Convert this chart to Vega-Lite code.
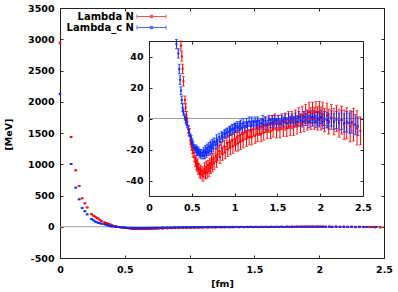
{
"$schema": "https://vega.github.io/schema/vega-lite/v6.json",
"width": 324,
"height": 250,
"autosize": {"type": "none"},
"padding": {"left": 60, "top": 8, "right": 14, "bottom": 34},
"background": "white",
"config": {
  "view": {"stroke": null},
  "font": "DejaVu Sans",
  "axis": {"labelFont": "DejaVu Sans", "labelFontWeight": "bold", "labelFontSize": 9.5, "labelColor": "#000",
    "titleFont": "DejaVu Sans", "titleFontWeight": "bold", "titleFontSize": 9.5, "titleColor": "#000",
    "domainColor": "#222", "tickColor": "#222", "tickSize": -3, "labelPadding": 9, "grid": false,
    "labelFlush": false, "labelOverlap": false, "labelExpr": "'' + datum.value"}
},
"datasets": {
"pot": [
{"r":0,"v":2940,"e":15,"s":"Lambda N"},{"r":0.0857,"v":1436,"e":10,"s":"Lambda N"},{"r":0.1212,"v":903,"e":8,"s":"Lambda N"},{"r":0.1484,"v":652,"e":6,"s":"Lambda N"},{"r":0.1714,"v":455,"e":5,"s":"Lambda N"},{"r":0.1916,"v":375,"e":5,"s":"Lambda N"},{"r":0.2099,"v":308,"e":4,"s":"Lambda N"},{"r":0.2424,"v":204,"e":4,"s":"Lambda N"},{"r":0.2571,"v":178,"e":4,"s":"Lambda N"},{"r":0.271,"v":162,"e":4,"s":"Lambda N"},{"r":0.2842,"v":140,"e":3,"s":"Lambda N"},{"r":0.2969,"v":128,"e":3,"s":"Lambda N"},{"r":0.309,"v":105,"e":3,"s":"Lambda N"},{"r":0.3207,"v":88,"e":3,"s":"Lambda N"},{"r":0.3428,"v":70,"e":3,"s":"Lambda N"},{"r":0.3533,"v":62,"e":3,"s":"Lambda N"},{"r":0.3636,"v":55,"e":3,"s":"Lambda N"},{"r":0.3736,"v":47,"e":3,"s":"Lambda N"},{"r":0.3833,"v":40,"e":3,"s":"Lambda N"},{"r":0.3927,"v":32,"e":3,"s":"Lambda N"},{"r":0.402,"v":24,"e":3,"s":"Lambda N"},{"r":0.4198,"v":12,"e":2.5,"s":"Lambda N"},{"r":0.4285,"v":7,"e":2.5,"s":"Lambda N"},{"r":0.437,"v":2,"e":2.5,"s":"Lambda N"},{"r":0.4453,"v":-2,"e":2.5,"s":"Lambda N"},{"r":0.4615,"v":-7,"e":2.5,"s":"Lambda N"},{"r":0.4694,"v":-9,"e":2.5,"s":"Lambda N"},{"r":0.4848,"v":-14,"e":2.5,"s":"Lambda N"},{"r":0.4923,"v":-16,"e":2.5,"s":"Lambda N"},{"r":0.4997,"v":-18,"e":2.5,"s":"Lambda N"},{"r":0.507,"v":-20,"e":2.5,"s":"Lambda N"},{"r":0.5142,"v":-22,"e":3,"s":"Lambda N"},{"r":0.5283,"v":-25,"e":3,"s":"Lambda N"},{"r":0.542,"v":-28,"e":3,"s":"Lambda N"},{"r":0.5487,"v":-27,"e":3,"s":"Lambda N"},{"r":0.5554,"v":-30,"e":3,"s":"Lambda N"},{"r":0.562,"v":-31,"e":3,"s":"Lambda N"},{"r":0.5685,"v":-29,"e":3,"s":"Lambda N"},{"r":0.5749,"v":-33,"e":3,"s":"Lambda N"},{"r":0.5812,"v":-32,"e":3,"s":"Lambda N"},{"r":0.5937,"v":-35,"e":3,"s":"Lambda N"},{"r":0.5999,"v":-33,"e":3,"s":"Lambda N"},{"r":0.606,"v":-36,"e":3,"s":"Lambda N"},{"r":0.62,"v":-34,"e":3,"s":"Lambda N"},{"r":0.63,"v":-37,"e":3.5,"s":"Lambda N"},{"r":0.64,"v":-35,"e":3,"s":"Lambda N"},{"r":0.65,"v":-32,"e":3.5,"s":"Lambda N"},{"r":0.66,"v":-36,"e":3,"s":"Lambda N"},{"r":0.67,"v":-31,"e":3.5,"s":"Lambda N"},{"r":0.68,"v":-35,"e":3.5,"s":"Lambda N"},{"r":0.69,"v":-30,"e":3,"s":"Lambda N"},{"r":0.7,"v":-34,"e":3.5,"s":"Lambda N"},{"r":0.71,"v":-29,"e":3.5,"s":"Lambda N"},{"r":0.72,"v":-32,"e":3.5,"s":"Lambda N"},{"r":0.73,"v":-27,"e":3.5,"s":"Lambda N"},{"r":0.74,"v":-31,"e":3.5,"s":"Lambda N"},{"r":0.75,"v":-26,"e":3.5,"s":"Lambda N"},{"r":0.76,"v":-29,"e":4,"s":"Lambda N"},{"r":0.78,"v":-24,"e":4,"s":"Lambda N"},{"r":0.79,"v":-28,"e":3.5,"s":"Lambda N"},{"r":0.8,"v":-23,"e":4,"s":"Lambda N"},{"r":0.82,"v":-21,"e":4,"s":"Lambda N"},{"r":0.83,"v":-25,"e":4,"s":"Lambda N"},{"r":0.85,"v":-19,"e":4,"s":"Lambda N"},{"r":0.86,"v":-23,"e":4,"s":"Lambda N"},{"r":0.88,"v":-18,"e":4,"s":"Lambda N"},{"r":0.89,"v":-22,"e":4,"s":"Lambda N"},{"r":0.91,"v":-16,"e":4,"s":"Lambda N"},{"r":0.92,"v":-20,"e":4.5,"s":"Lambda N"},{"r":0.94,"v":-15,"e":4,"s":"Lambda N"},{"r":0.95,"v":-19,"e":4.5,"s":"Lambda N"},{"r":0.97,"v":-14,"e":4,"s":"Lambda N"},{"r":0.98,"v":-18,"e":4.5,"s":"Lambda N"},{"r":1.0,"v":-13,"e":4.5,"s":"Lambda N"},{"r":1.01,"v":-17,"e":4,"s":"Lambda N"},{"r":1.03,"v":-12,"e":4.5,"s":"Lambda N"},{"r":1.04,"v":-16,"e":5,"s":"Lambda N"},{"r":1.06,"v":-11,"e":4.5,"s":"Lambda N"},{"r":1.07,"v":-15,"e":5,"s":"Lambda N"},{"r":1.09,"v":-10,"e":4.5,"s":"Lambda N"},{"r":1.1,"v":-14,"e":5,"s":"Lambda N"},{"r":1.12,"v":-9,"e":4.5,"s":"Lambda N"},{"r":1.14,"v":-13,"e":5,"s":"Lambda N"},{"r":1.15,"v":-8,"e":4.5,"s":"Lambda N"},{"r":1.17,"v":-12,"e":5,"s":"Lambda N"},{"r":1.19,"v":-8,"e":4.5,"s":"Lambda N"},{"r":1.2,"v":-12,"e":5,"s":"Lambda N"},{"r":1.22,"v":-7,"e":4.5,"s":"Lambda N"},{"r":1.24,"v":-11,"e":5,"s":"Lambda N"},{"r":1.26,"v":-6,"e":4.5,"s":"Lambda N"},{"r":1.27,"v":-10,"e":5,"s":"Lambda N"},{"r":1.29,"v":-6,"e":5,"s":"Lambda N"},{"r":1.31,"v":-10,"e":5,"s":"Lambda N"},{"r":1.33,"v":-5,"e":4.5,"s":"Lambda N"},{"r":1.34,"v":-9,"e":5,"s":"Lambda N"},{"r":1.36,"v":-4,"e":5,"s":"Lambda N"},{"r":1.38,"v":-8,"e":5,"s":"Lambda N"},{"r":1.4,"v":-4,"e":5,"s":"Lambda N"},{"r":1.42,"v":-8,"e":5,"s":"Lambda N"},{"r":1.44,"v":-3,"e":5,"s":"Lambda N"},{"r":1.45,"v":-7,"e":5,"s":"Lambda N"},{"r":1.47,"v":-2,"e":5,"s":"Lambda N"},{"r":1.49,"v":-7,"e":5.5,"s":"Lambda N"},{"r":1.51,"v":-3,"e":5,"s":"Lambda N"},{"r":1.53,"v":-7,"e":5.5,"s":"Lambda N"},{"r":1.55,"v":-2,"e":5,"s":"Lambda N"},{"r":1.57,"v":-6,"e":5.5,"s":"Lambda N"},{"r":1.59,"v":-2,"e":5.5,"s":"Lambda N"},{"r":1.61,"v":-6,"e":5.5,"s":"Lambda N"},{"r":1.63,"v":-1,"e":5.5,"s":"Lambda N"},{"r":1.65,"v":-5,"e":6,"s":"Lambda N"},{"r":1.67,"v":-1,"e":5.5,"s":"Lambda N"},{"r":1.69,"v":-5,"e":6,"s":"Lambda N"},{"r":1.71,"v":0,"e":5.5,"s":"Lambda N"},{"r":1.73,"v":-4,"e":6,"s":"Lambda N"},{"r":1.75,"v":1,"e":6,"s":"Lambda N"},{"r":1.77,"v":-3,"e":6,"s":"Lambda N"},{"r":1.79,"v":2,"e":6,"s":"Lambda N"},{"r":1.81,"v":-2,"e":6.5,"s":"Lambda N"},{"r":1.83,"v":3,"e":6,"s":"Lambda N"},{"r":1.85,"v":-1,"e":6.5,"s":"Lambda N"},{"r":1.87,"v":4,"e":6.5,"s":"Lambda N"},{"r":1.89,"v":0,"e":7,"s":"Lambda N"},{"r":1.91,"v":4,"e":6.5,"s":"Lambda N"},{"r":1.93,"v":0,"e":7,"s":"Lambda N"},{"r":1.95,"v":4,"e":7,"s":"Lambda N"},{"r":1.97,"v":0,"e":7.5,"s":"Lambda N"},{"r":1.99,"v":4,"e":7,"s":"Lambda N"},{"r":2.01,"v":0,"e":7.5,"s":"Lambda N"},{"r":2.03,"v":3,"e":7.5,"s":"Lambda N"},{"r":2.05,"v":-1,"e":7.5,"s":"Lambda N"},{"r":2.08,"v":2,"e":8,"s":"Lambda N"},{"r":2.1,"v":-2,"e":8,"s":"Lambda N"},{"r":2.13,"v":1,"e":8,"s":"Lambda N"},{"r":2.16,"v":-2,"e":8.5,"s":"Lambda N"},{"r":2.19,"v":0,"e":8.5,"s":"Lambda N"},{"r":2.22,"v":-3,"e":9,"s":"Lambda N"},{"r":2.25,"v":-1,"e":9,"s":"Lambda N"},{"r":2.28,"v":-4,"e":9.5,"s":"Lambda N"},{"r":2.31,"v":-3,"e":10,"s":"Lambda N"},{"r":2.35,"v":-5,"e":10,"s":"Lambda N"},{"r":2.39,"v":-4,"e":10.5,"s":"Lambda N"},{"r":2.43,"v":-6,"e":11,"s":"Lambda N"},{"r":2.47,"v":-8,"e":9,"s":"Lambda N"},
{"r":0,"v":2124,"e":12,"s":"Lambda_c N"},{"r":0.0857,"v":1004,"e":8,"s":"Lambda_c N"},{"r":0.1212,"v":626,"e":6,"s":"Lambda_c N"},{"r":0.1484,"v":439,"e":5,"s":"Lambda_c N"},{"r":0.1714,"v":300,"e":4,"s":"Lambda_c N"},{"r":0.1916,"v":248,"e":4,"s":"Lambda_c N"},{"r":0.2099,"v":198,"e":4,"s":"Lambda_c N"},{"r":0.2424,"v":125,"e":3,"s":"Lambda_c N"},{"r":0.2571,"v":104,"e":3,"s":"Lambda_c N"},{"r":0.271,"v":84,"e":3,"s":"Lambda_c N"},{"r":0.2842,"v":72,"e":3,"s":"Lambda_c N"},{"r":0.2969,"v":62,"e":3,"s":"Lambda_c N"},{"r":0.309,"v":55,"e":3,"s":"Lambda_c N"},{"r":0.3207,"v":48,"e":3,"s":"Lambda_c N"},{"r":0.3428,"v":42,"e":3,"s":"Lambda_c N"},{"r":0.3533,"v":32,"e":3,"s":"Lambda_c N"},{"r":0.3636,"v":25,"e":3,"s":"Lambda_c N"},{"r":0.3736,"v":18,"e":2.5,"s":"Lambda_c N"},{"r":0.3833,"v":12,"e":2.5,"s":"Lambda_c N"},{"r":0.3927,"v":7,"e":2.5,"s":"Lambda_c N"},{"r":0.402,"v":4,"e":2,"s":"Lambda_c N"},{"r":0.4198,"v":1,"e":2,"s":"Lambda_c N"},{"r":0.4285,"v":-1,"e":2,"s":"Lambda_c N"},{"r":0.437,"v":-2,"e":2,"s":"Lambda_c N"},{"r":0.4453,"v":-4,"e":2,"s":"Lambda_c N"},{"r":0.4615,"v":-7,"e":2,"s":"Lambda_c N"},{"r":0.4694,"v":-9,"e":2,"s":"Lambda_c N"},{"r":0.4848,"v":-12,"e":2,"s":"Lambda_c N"},{"r":0.4923,"v":-13,"e":2,"s":"Lambda_c N"},{"r":0.4997,"v":-15,"e":2,"s":"Lambda_c N"},{"r":0.507,"v":-16,"e":2,"s":"Lambda_c N"},{"r":0.5142,"v":-17,"e":2,"s":"Lambda_c N"},{"r":0.5283,"v":-19,"e":2,"s":"Lambda_c N"},{"r":0.542,"v":-20,"e":2,"s":"Lambda_c N"},{"r":0.5487,"v":-19,"e":2,"s":"Lambda_c N"},{"r":0.5554,"v":-21,"e":2,"s":"Lambda_c N"},{"r":0.562,"v":-22,"e":2,"s":"Lambda_c N"},{"r":0.5685,"v":-20,"e":2,"s":"Lambda_c N"},{"r":0.5749,"v":-22,"e":2,"s":"Lambda_c N"},{"r":0.5812,"v":-21,"e":2,"s":"Lambda_c N"},{"r":0.5937,"v":-23,"e":2,"s":"Lambda_c N"},{"r":0.5999,"v":-22,"e":2,"s":"Lambda_c N"},{"r":0.606,"v":-24,"e":2,"s":"Lambda_c N"},{"r":0.62,"v":-22,"e":2,"s":"Lambda_c N"},{"r":0.63,"v":-24,"e":2,"s":"Lambda_c N"},{"r":0.64,"v":-21,"e":2.5,"s":"Lambda_c N"},{"r":0.65,"v":-24,"e":2,"s":"Lambda_c N"},{"r":0.66,"v":-20,"e":2.5,"s":"Lambda_c N"},{"r":0.67,"v":-23,"e":2,"s":"Lambda_c N"},{"r":0.68,"v":-19,"e":2.5,"s":"Lambda_c N"},{"r":0.69,"v":-22,"e":2,"s":"Lambda_c N"},{"r":0.7,"v":-18,"e":2.5,"s":"Lambda_c N"},{"r":0.71,"v":-21,"e":2.5,"s":"Lambda_c N"},{"r":0.72,"v":-17,"e":2.5,"s":"Lambda_c N"},{"r":0.73,"v":-20,"e":2.5,"s":"Lambda_c N"},{"r":0.74,"v":-16,"e":2.5,"s":"Lambda_c N"},{"r":0.75,"v":-19,"e":2.5,"s":"Lambda_c N"},{"r":0.76,"v":-15,"e":2.5,"s":"Lambda_c N"},{"r":0.78,"v":-17,"e":2.5,"s":"Lambda_c N"},{"r":0.79,"v":-13,"e":2.5,"s":"Lambda_c N"},{"r":0.8,"v":-16,"e":2.5,"s":"Lambda_c N"},{"r":0.82,"v":-12,"e":2.5,"s":"Lambda_c N"},{"r":0.83,"v":-15,"e":2.5,"s":"Lambda_c N"},{"r":0.85,"v":-11,"e":2.5,"s":"Lambda_c N"},{"r":0.86,"v":-12,"e":3,"s":"Lambda_c N"},{"r":0.88,"v":-10,"e":2.5,"s":"Lambda_c N"},{"r":0.89,"v":-10,"e":3,"s":"Lambda_c N"},{"r":0.91,"v":-9,"e":2.5,"s":"Lambda_c N"},{"r":0.92,"v":-9,"e":3,"s":"Lambda_c N"},{"r":0.94,"v":-8,"e":3,"s":"Lambda_c N"},{"r":0.95,"v":-8,"e":3,"s":"Lambda_c N"},{"r":0.97,"v":-7,"e":3,"s":"Lambda_c N"},{"r":0.98,"v":-7,"e":3,"s":"Lambda_c N"},{"r":1.0,"v":-6,"e":3,"s":"Lambda_c N"},{"r":1.01,"v":-6,"e":3,"s":"Lambda_c N"},{"r":1.03,"v":-5,"e":3,"s":"Lambda_c N"},{"r":1.04,"v":-6,"e":3,"s":"Lambda_c N"},{"r":1.06,"v":-5,"e":3,"s":"Lambda_c N"},{"r":1.07,"v":-4,"e":3,"s":"Lambda_c N"},{"r":1.09,"v":-6,"e":3,"s":"Lambda_c N"},{"r":1.1,"v":-3,"e":3,"s":"Lambda_c N"},{"r":1.12,"v":-5,"e":3,"s":"Lambda_c N"},{"r":1.14,"v":-3,"e":3,"s":"Lambda_c N"},{"r":1.15,"v":-5,"e":3,"s":"Lambda_c N"},{"r":1.17,"v":-2,"e":3,"s":"Lambda_c N"},{"r":1.19,"v":-5,"e":3,"s":"Lambda_c N"},{"r":1.2,"v":-2,"e":3,"s":"Lambda_c N"},{"r":1.22,"v":-4,"e":3,"s":"Lambda_c N"},{"r":1.24,"v":-2,"e":3,"s":"Lambda_c N"},{"r":1.26,"v":-4,"e":3,"s":"Lambda_c N"},{"r":1.27,"v":-2,"e":3,"s":"Lambda_c N"},{"r":1.29,"v":-4,"e":3,"s":"Lambda_c N"},{"r":1.31,"v":-3,"e":3,"s":"Lambda_c N"},{"r":1.33,"v":-1,"e":3,"s":"Lambda_c N"},{"r":1.34,"v":-4,"e":3,"s":"Lambda_c N"},{"r":1.36,"v":-2,"e":3,"s":"Lambda_c N"},{"r":1.38,"v":-4,"e":3,"s":"Lambda_c N"},{"r":1.4,"v":-1,"e":3,"s":"Lambda_c N"},{"r":1.42,"v":-3,"e":3,"s":"Lambda_c N"},{"r":1.44,"v":-1,"e":3,"s":"Lambda_c N"},{"r":1.45,"v":-3,"e":3,"s":"Lambda_c N"},{"r":1.47,"v":-1,"e":3,"s":"Lambda_c N"},{"r":1.49,"v":-3,"e":3,"s":"Lambda_c N"},{"r":1.51,"v":-1,"e":3,"s":"Lambda_c N"},{"r":1.53,"v":-3,"e":3,"s":"Lambda_c N"},{"r":1.55,"v":-1,"e":3,"s":"Lambda_c N"},{"r":1.57,"v":-2,"e":3,"s":"Lambda_c N"},{"r":1.59,"v":0,"e":3,"s":"Lambda_c N"},{"r":1.61,"v":-3,"e":3.5,"s":"Lambda_c N"},{"r":1.63,"v":0,"e":3,"s":"Lambda_c N"},{"r":1.65,"v":-2,"e":3.5,"s":"Lambda_c N"},{"r":1.67,"v":0,"e":3,"s":"Lambda_c N"},{"r":1.69,"v":-2,"e":3.5,"s":"Lambda_c N"},{"r":1.71,"v":0,"e":3.5,"s":"Lambda_c N"},{"r":1.73,"v":-2,"e":3.5,"s":"Lambda_c N"},{"r":1.75,"v":1,"e":3.5,"s":"Lambda_c N"},{"r":1.77,"v":-1,"e":3.5,"s":"Lambda_c N"},{"r":1.79,"v":-2,"e":3.5,"s":"Lambda_c N"},{"r":1.81,"v":1,"e":3.5,"s":"Lambda_c N"},{"r":1.83,"v":-1,"e":3.5,"s":"Lambda_c N"},{"r":1.85,"v":1,"e":4,"s":"Lambda_c N"},{"r":1.87,"v":-2,"e":4,"s":"Lambda_c N"},{"r":1.89,"v":1,"e":4,"s":"Lambda_c N"},{"r":1.91,"v":-1,"e":4,"s":"Lambda_c N"},{"r":1.93,"v":1,"e":4,"s":"Lambda_c N"},{"r":1.95,"v":-2,"e":4,"s":"Lambda_c N"},{"r":1.97,"v":0,"e":4.5,"s":"Lambda_c N"},{"r":1.99,"v":-1,"e":4.5,"s":"Lambda_c N"},{"r":2.01,"v":1,"e":4.5,"s":"Lambda_c N"},{"r":2.03,"v":-2,"e":4.5,"s":"Lambda_c N"},{"r":2.05,"v":0,"e":4.5,"s":"Lambda_c N"},{"r":2.08,"v":-1,"e":5,"s":"Lambda_c N"},{"r":2.1,"v":-2,"e":5,"s":"Lambda_c N"},{"r":2.13,"v":0,"e":5,"s":"Lambda_c N"},{"r":2.16,"v":-2,"e":5,"s":"Lambda_c N"},{"r":2.19,"v":-1,"e":5.5,"s":"Lambda_c N"},{"r":2.22,"v":-2,"e":5.5,"s":"Lambda_c N"},{"r":2.25,"v":-1,"e":6,"s":"Lambda_c N"},{"r":2.28,"v":-3,"e":6,"s":"Lambda_c N"},{"r":2.31,"v":-2,"e":6.5,"s":"Lambda_c N"},{"r":2.34,"v":-3,"e":6.5,"s":"Lambda_c N"},{"r":2.37,"v":-2.5,"e":7,"s":"Lambda_c N"},{"r":2.41,"v":-4,"e":6.5,"s":"Lambda_c N"},{"r":2.44,"v":-5,"e":6,"s":"Lambda_c N"}
]
},
"resolve": {"scale": {"x": "independent", "y": "independent"}},
"layer": [
  {
    "layer": [
      {"data": {"values": [{}]}, "mark": {"type": "rule", "color": "#a0a0a0", "strokeWidth": 1},
       "encoding": {"y": {"datum": 0, "type": "quantitative"}}},
      {"data": {"name": "pot"},
       "mark": {"type": "errorbar", "ticks": {"size": 3}, "thickness": 1},
       "encoding": {
         "x": {"field": "r", "type": "quantitative", "scale": {"domain": [0, 2.5], "nice": false, "zero": false},
               "axis": {"values": [0, 0.5, 1, 1.5, 2, 2.5], "tickCount": 20, "labelOverlap": false, "title": "[fm]", "titleY": 25, "titleBaseline": "middle"}},
         "y": {"field": "v", "type": "quantitative", "scale": {"domain": [-500, 3500], "nice": false},
               "axis": {"values": [-500, 0, 500, 1000, 1500, 2000, 2500, 3000, 3500], "tickCount": 20, "labelOverlap": false, "title": "[MeV]", "titleX": -52, "titleY": 126, "titleAngle": -90, "titleAlign": "center", "titleBaseline": "middle"}},
         "yError": {"field": "e"},
         "color": {"field": "s", "type": "nominal", "scale": {"domain": ["Lambda N", "Lambda_c N"], "range": ["#ff0000", "#0a28ff"]},
                   "legend": {"title": null, "orient": "none", "legendX": 86, "legendY": 3, "direction": "vertical",
                              "symbolType": "M-2.9,0H2.9M-2.9,-0.4V0.4M2.9,-0.4V0.4M-0.25,-0.25H0.25V0.25H-0.25Z",
                              "symbolSize": 100, "symbolStrokeWidth": 1, "labelFont": "DejaVu Sans", "labelFontWeight": "bold",
                              "labelFontSize": 10, "labelColor": "#000", "labelAlign": "right", "labelOffset": -23, "rowPadding": 0, "padding": 0}}
       }},
      {"data": {"name": "pot"},
       "mark": {"type": "square", "size": 4, "opacity": 1, "filled": true},
       "encoding": {
         "x": {"field": "r", "type": "quantitative"},
         "y": {"field": "v", "type": "quantitative"},
         "color": {"field": "s", "type": "nominal", "legend": null}
       }}
    ]
  },
  {
    "data": {"values": [{}]},
    "mark": {"type": "point", "opacity": 0},
    "encoding": {
      "x": {"datum": 0, "type": "quantitative", "scale": {"domain": [0, 2.5], "nice": false, "zero": false},
            "axis": {"orient": "top", "labels": false, "values": [0, 0.5, 1, 1.5, 2, 2.5], "tickCount": 20, "title": null}},
      "y": {"datum": 0, "type": "quantitative", "scale": {"domain": [-500, 3500], "nice": false},
            "axis": {"orient": "right", "labels": false, "values": [-500, 0, 500, 1000, 1500, 2000, 2500, 3000, 3500], "tickCount": 20, "title": null}}
    }
  },
  {
    "layer": [
      {"data": {"values": [{}]}, "mark": {"type": "rule", "color": "#a0a0a0", "strokeWidth": 1},
       "encoding": {"x": {"datum": 0, "type": "quantitative"}, "x2": {"datum": 2.5}, "y": {"datum": 0, "type": "quantitative"}}},
      {"data": {"name": "pot"},
       "transform": [{"filter": "datum.v >= -50 && datum.v <= 50"}],
       "mark": {"type": "errorbar", "ticks": {"size": 3}, "thickness": 1},
       "encoding": {
         "x": {"field": "r", "type": "quantitative", "scale": {"domain": [0, 2.5], "range": [89, 303], "nice": false, "zero": false},
               "axis": {"orient": "bottom", "offset": -62, "values": [0, 0.5, 1, 1.5, 2, 2.5], "tickCount": 20, "labelOverlap": false, "title": null}},
         "y": {"field": "v", "type": "quantitative", "scale": {"domain": [-50, 50], "range": [188, 33], "nice": false},
               "axis": {"orient": "left", "offset": -89, "values": [-40, -20, 0, 20, 40], "tickCount": 20, "labelOverlap": false, "title": null}},
         "yError": {"field": "e"},
         "color": {"field": "s", "type": "nominal", "legend": null}
       }},
      {"data": {"name": "pot"},
       "transform": [{"filter": "datum.v >= -50 && datum.v <= 50"}],
       "mark": {"type": "square", "size": 4, "opacity": 1, "filled": true},
       "encoding": {
         "x": {"field": "r", "type": "quantitative"},
         "y": {"field": "v", "type": "quantitative"},
         "color": {"field": "s", "type": "nominal", "legend": null}
       }}
    ]
  },
  {
    "data": {"values": [{}]},
    "mark": {"type": "point", "opacity": 0},
    "encoding": {
      "x": {"datum": 0, "type": "quantitative", "scale": {"domain": [0, 2.5], "range": [89, 303], "nice": false, "zero": false},
            "axis": {"orient": "top", "offset": -33, "labels": false, "values": [0, 0.5, 1, 1.5, 2, 2.5], "tickCount": 20, "title": null}},
      "y": {"datum": 0, "type": "quantitative", "scale": {"domain": [-50, 50], "range": [188, 33], "nice": false},
            "axis": {"orient": "right", "offset": -21, "labels": false, "values": [-40, -20, 0, 20, 40], "tickCount": 20, "title": null}}
    }
  }
]
}
